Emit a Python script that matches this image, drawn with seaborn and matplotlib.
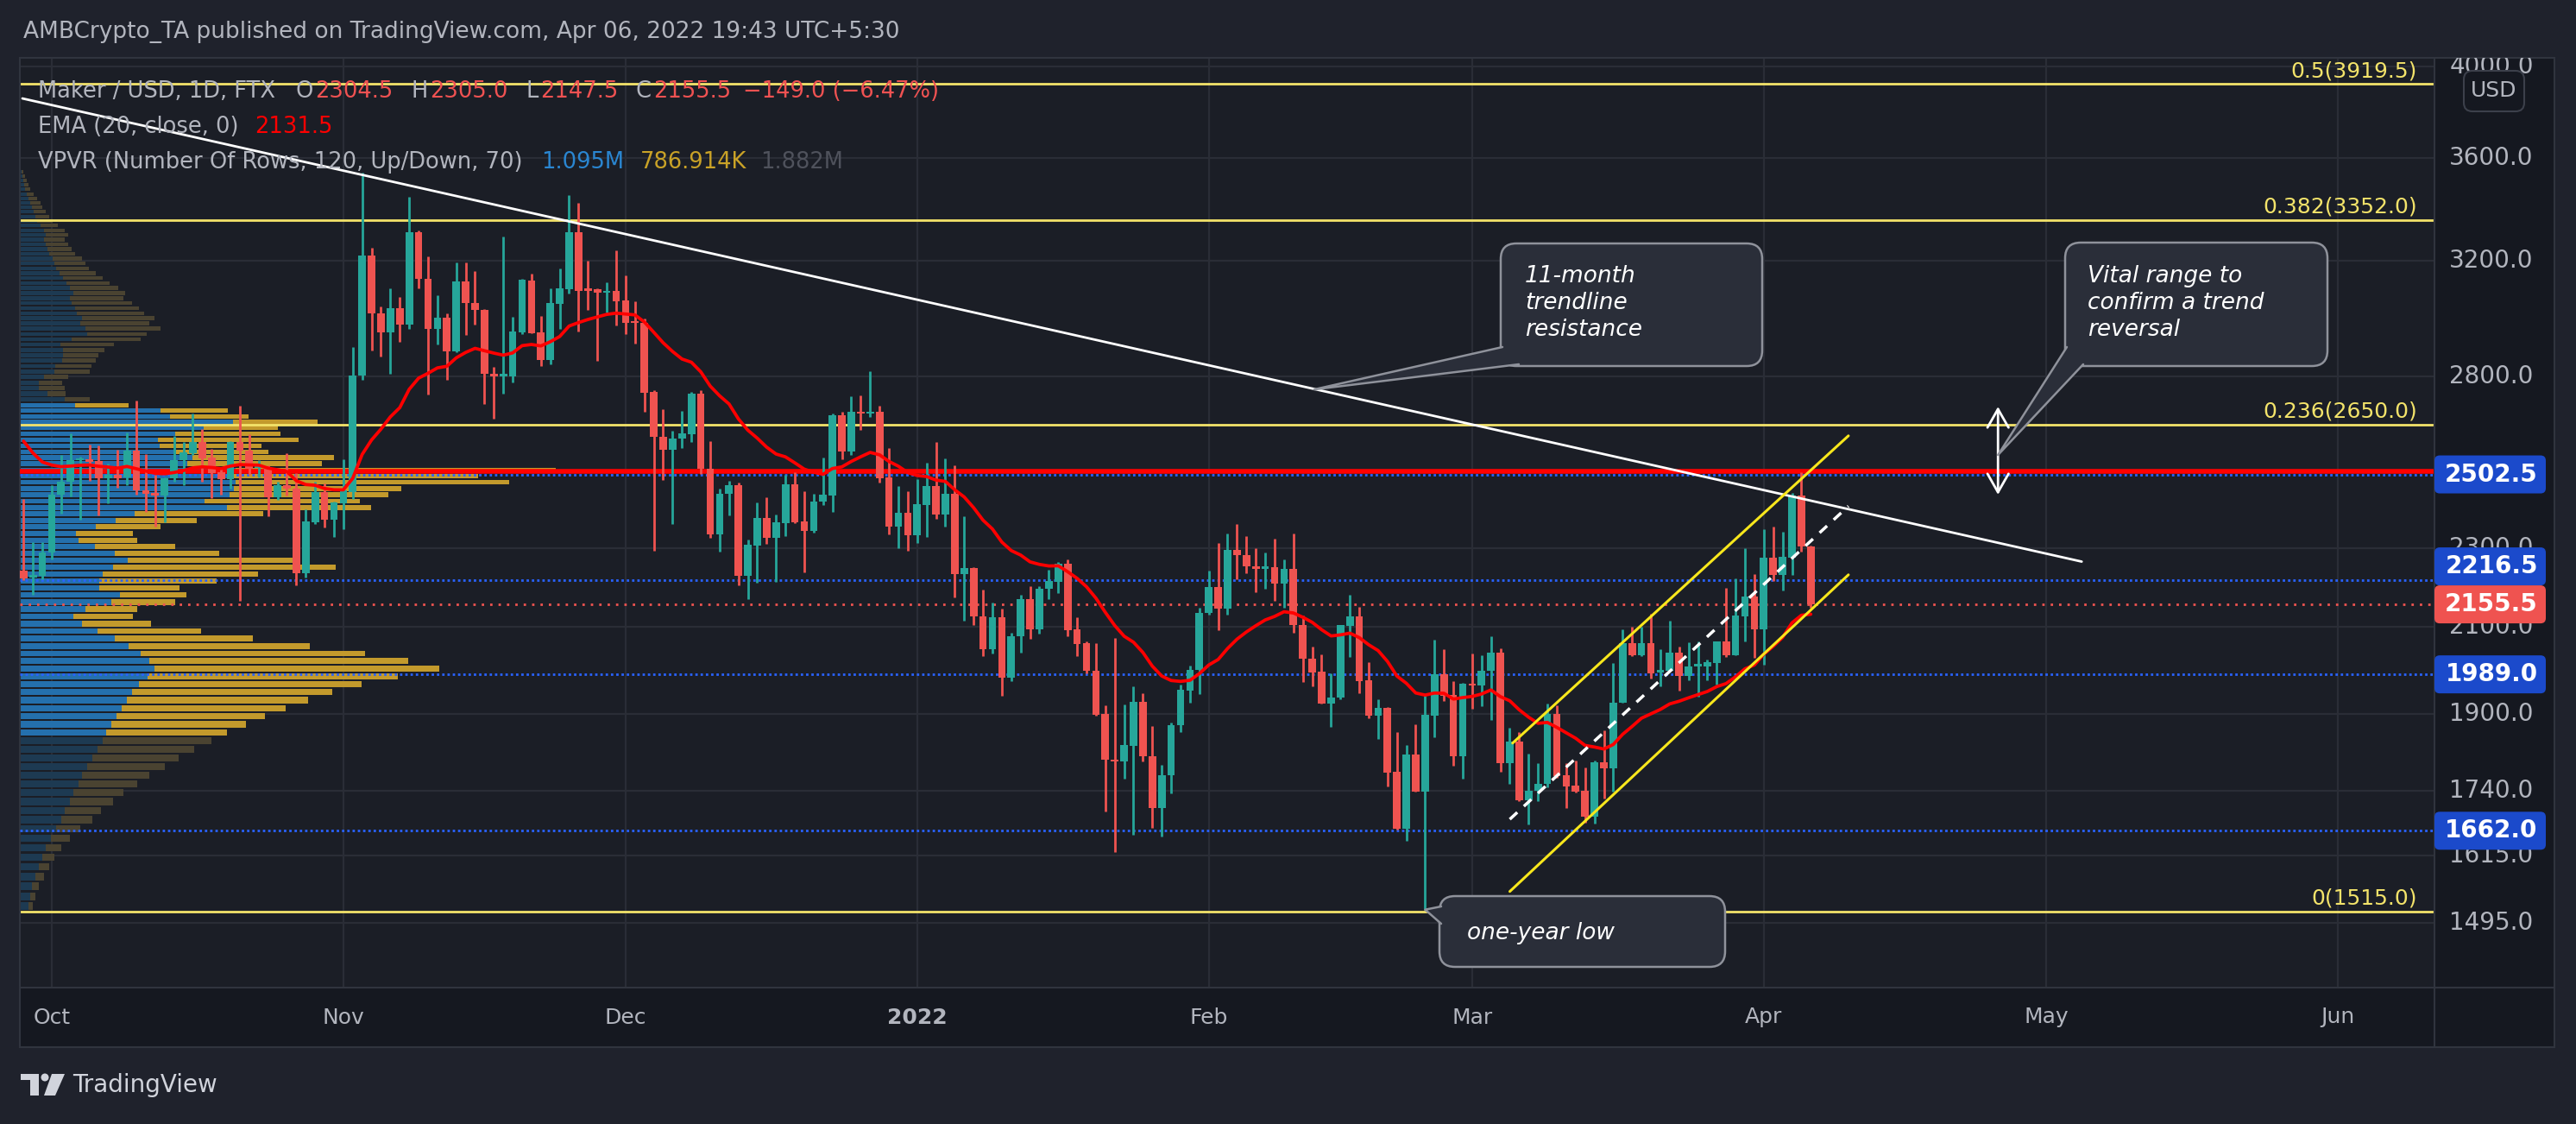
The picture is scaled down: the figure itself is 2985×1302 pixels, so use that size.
import numpy as np
import pandas as pd
import matplotlib
matplotlib.use("Agg")
import matplotlib.pyplot as plt
from matplotlib.patches import FancyBboxPatch, Polygon, Circle, Rectangle
from matplotlib.lines import Line2D
from matplotlib.transforms import IdentityTransform
import seaborn as sns

sns.set_theme(style="dark")
plt.rcParams["font.family"] = ["DejaVu Sans"]

# ------------------------------------------------------------------ data
start_date = "2021-09-28"
opens = [2240, 2223, 2228, 2287, 2444, 2481, 2543, 2547, 2541, 2491,
         2502, 2493, 2571, 2457, 2450, 2443, 2491, 2543, 2565, 2597,
         2552, 2508, 2489, 2597, 2571, 2521, 2524, 2438, 2473, 2462,
         2233, 2369, 2452, 2375, 2421, 2452, 2803, 3218, 3012, 2946,
         3028, 2973, 3305, 3134, 2958, 2995, 2883, 3123, 3048, 3022,
         2810, 2801, 2801, 2946, 3127, 2946, 2855, 3045, 3097, 3305,
         3097, 3095, 3083, 3091, 3055, 2982, 2978, 2752, 2614, 2575,
         2607, 2620, 2746, 2520, 2336, 2447, 2471, 2228, 2306, 2380,
         2327, 2367, 2474, 2371, 2345, 2425, 2442, 2679, 2570, 2690,
         2683, 2688, 2493, 2357, 2394, 2334, 2417, 2469, 2389, 2447,
         2232, 2247, 2127, 2048, 2124, 1982, 2077, 2169, 2095, 2194,
         2213, 2258, 2095, 2061, 1998, 1901, 1804, 1799, 1833, 1927,
         1811, 1706, 1771, 1876, 1953, 2000, 2134, 2199, 2144, 2294,
         2280, 2252, 2246, 2250, 2208, 2246, 2106, 2025, 1995, 1924,
         1936, 2103, 2125, 1975, 1897, 1914, 1779, 1666, 1814, 1739,
         1896, 1990, 1943, 1811, 1967, 1963, 1997, 2040, 1797, 1841,
         1722, 1740, 1754, 1900, 1771, 1750, 1740, 1689, 1798, 1785,
         1926, 2062, 2033, 2061, 1993, 1998, 2039, 1985, 2008, 2008,
         2016, 2065, 2034, 2126, 2175, 2094, 2274, 2230, 2274, 2443,
         2304.5]
highs = [2432, 2315, 2315, 2473, 2559, 2623, 2553, 2590, 2587, 2535,
         2575, 2626, 2724, 2561, 2502, 2495, 2616, 2598, 2684, 2636,
         2577, 2524, 2600, 2708, 2620, 2543, 2528, 2481, 2564, 2506,
         2405, 2482, 2477, 2425, 2546, 2898, 3539, 3248, 3035, 3099,
         3068, 3441, 3310, 3214, 3075, 3010, 3191, 3191, 3160, 3025,
         2831, 3288, 2998, 3134, 3150, 3003, 3099, 3170, 3449, 3418,
         3198, 3099, 3121, 3237, 3146, 3053, 2992, 2757, 2697, 2631,
         2692, 2752, 2756, 2600, 2462, 2485, 2478, 2323, 2423, 2438,
         2389, 2501, 2508, 2455, 2447, 2551, 2684, 2690, 2738, 2740,
         2818, 2709, 2579, 2469, 2455, 2489, 2537, 2597, 2549, 2528,
         2384, 2250, 2192, 2160, 2145, 2086, 2180, 2201, 2201, 2243,
         2262, 2269, 2124, 2065, 2061, 1920, 2074, 1922, 1962, 1946,
         1875, 1793, 1882, 1965, 2010, 2148, 2241, 2313, 2338, 2364,
         2331, 2299, 2288, 2324, 2269, 2338, 2129, 2053, 2035, 1992,
         2106, 2180, 2149, 2017, 1933, 1915, 1862, 1834, 1878, 1943,
         2070, 2047, 1973, 1969, 2037, 2034, 2079, 2050, 1871, 1862,
         1815, 1797, 1924, 1919, 1797, 1801, 1788, 1801, 1865, 2015,
         2095, 2101, 2101, 2133, 2048, 2116, 2053, 2063, 2066, 2024,
         2065, 2197, 2221, 2300, 2232, 2349, 2356, 2342, 2449, 2508,
         2305.0]
lows = [2217, 2179, 2219, 2269, 2392, 2440, 2376, 2483, 2388, 2422,
        2464, 2473, 2444, 2398, 2358, 2369, 2482, 2473, 2560, 2481,
        2436, 2446, 2461, 2165, 2502, 2493, 2385, 2430, 2442, 2203,
        2224, 2365, 2355, 2330, 2351, 2434, 2790, 2885, 2864, 2810,
        2914, 2958, 3099, 2742, 2905, 2791, 2880, 2936, 2973, 2712,
        2668, 2746, 2780, 2939, 2943, 2833, 2840, 2959, 3080, 2949,
        3023, 2852, 3015, 2970, 2939, 2908, 2688, 2292, 2487, 2365,
        2579, 2598, 2505, 2327, 2290, 2388, 2203, 2169, 2210, 2311,
        2211, 2332, 2367, 2237, 2340, 2415, 2398, 2547, 2560, 2633,
        2672, 2478, 2336, 2299, 2292, 2314, 2330, 2378, 2357, 2172,
        2115, 2106, 2032, 2037, 1940, 1974, 2040, 2072, 2084, 2169,
        2183, 2078, 2031, 1992, 1896, 1700, 1622, 1764, 1654, 1799,
        1668, 1651, 1735, 1862, 1925, 1944, 2130, 2093, 2131, 2218,
        2234, 2185, 2194, 2165, 2148, 2087, 1971, 1962, 1924, 1872,
        1933, 2029, 1947, 1892, 1847, 1749, 1664, 1643, 1739, 1518,
        1850, 1929, 1790, 1764, 1912, 1917, 1887, 1779, 1754, 1720,
        1674, 1720, 1747, 1766, 1706, 1737, 1677, 1676, 1724, 1739,
        1925, 2032, 2032, 1979, 1961, 1998, 1953, 1976, 1938, 1976,
        1965, 2029, 2034, 2065, 2028, 2012, 2215, 2190, 2230, 2291,
        2147.5]
closes = [2221, 2230, 2288, 2444, 2481, 2543, 2549, 2539, 2491, 2502,
          2492, 2571, 2457, 2448, 2443, 2492, 2543, 2567, 2597, 2550,
          2506, 2489, 2597, 2571, 2520, 2524, 2438, 2473, 2461, 2233,
          2371, 2452, 2375, 2424, 2457, 2804, 3218, 3012, 2946, 3028,
          2973, 3305, 3134, 2958, 2995, 2883, 3123, 3048, 3022, 2810,
          2801, 2805, 2949, 3129, 2943, 2855, 3047, 3099, 3305, 3091,
          3090, 3083, 3090, 3053, 2978, 2978, 2749, 2614, 2575, 2607,
          2622, 2746, 2519, 2336, 2447, 2471, 2228, 2308, 2380, 2327,
          2369, 2474, 2369, 2345, 2426, 2444, 2679, 2570, 2690, 2683,
          2688, 2492, 2357, 2394, 2334, 2418, 2469, 2389, 2447, 2232,
          2247, 2126, 2048, 2124, 1982, 2079, 2169, 2095, 2194, 2214,
          2258, 2093, 2060, 1997, 1899, 1803, 1799, 1834, 1927, 1810,
          1706, 1771, 1877, 1954, 2000, 2135, 2199, 2144, 2294, 2280,
          2252, 2246, 2250, 2208, 2246, 2105, 2025, 1994, 1924, 1937,
          2106, 2125, 1973, 1897, 1914, 1777, 1666, 1814, 1739, 1898,
          1990, 1941, 1811, 1968, 1963, 1997, 2040, 1797, 1841, 1722,
          1740, 1754, 1900, 1770, 1749, 1739, 1689, 1798, 1785, 1926,
          2062, 2033, 2061, 1992, 2000, 2039, 1985, 2008, 2010, 2018,
          2065, 2034, 2129, 2175, 2094, 2274, 2230, 2276, 2443, 2304,
          2155.5]
ema_seed = 2640.0

month_ticks = ["2021-10-01", "2021-11-01", "2021-12-01", "2022-01-01", "2022-02-01",
               "2022-03-01", "2022-04-01", "2022-05-01", "2022-06-01"]
month_labels = ["Oct", "Nov", "Dec", "2022", "Feb", "Mar", "Apr", "May", "Jun"]
price_ticks = [4000, 3600, 3200, 2800, 2300, 2100, 1900, 1740, 1615, 1495]

fib_ratios = ["0.5", "0.382", "0.236", "0"]
fib_prices = [3919.5, 3352.0, 2650.0, 1515.0]
red_level = 2512.0
blue_levels = [2502.5, 2216.5, 1989.0, 1662.0]
last_price = 2155.5

trend_days = [-0.12, 218.8]
trend_prices = [3854, 2264]
chan_up_days = [158.3, 194.0]
chan_up_prices = [1838, 2616]
chan_lo_days = [158.0, 194.0]
chan_lo_prices = [1550, 2230]
chan_mid_days = [158.0, 194.0]
chan_mid_prices = [1684, 2413]
arrow_day = 209.9
arrow_prices = [2705, 2445]
callout_trend_tip = (137.2, 2759)
callout_range_tip = (209.9, 2559)
callout_low_tip = (149, 1518)

vp_low, vp_high = 1515.0, 3640.0
vp_up = [10, 12, 14, 18, 22, 26, 30, 36, 42, 48, 52, 58, 62, 68, 72, 78, 84, 90, 96, 100,
         106, 112, 118, 124, 130, 138, 148, 156, 150, 140, 126, 110, 90, 72,
         62, 76, 106, 116, 92, 92, 96, 108, 125, 110, 87, 68, 65, 88, 111, 133, 240, 214, 243, 248,
         250, 245, 250, 194, 200, 181, 162, 160, 180, 213, 247, 174, 163, 64, 52, 32, 22, 22, 28, 40,
         41, 49, 50, 50, 47, 60, 78, 76,
         70, 72, 66, 64, 60, 58, 62, 58, 54, 50, 46, 42, 40, 38, 34, 32, 30, 28, 30, 28,
         24, 20, 18, 16, 14, 12, 10, 8, 6, 5, 4, 3, 2, 0, 0, 0, 0, 0]
vp_down = [5, 6, 8, 10, 12, 14, 18, 22, 28, 36, 42, 50, 58, 68, 78, 90, 100, 112, 126, 140,
           156, 172, 190, 210, 232, 258, 290, 330, 300, 260, 210, 160, 120, 80,
           69, 60, 74, 77, 93, 136, 180, 258, 200, 121, 93, 68, 66, 75, 94, 149, 167, 180, 184, 194,
           317, 286, 371, 156, 164, 107, 118, 163, 122, 86, 98, 91, 78, 62, 29, 21, 30, 27, 28, 41,
           42, 39, 41, 48, 62, 80, 69, 87,
           80, 84, 78, 74, 70, 62, 60, 56, 50, 46, 42, 38, 36, 34, 30, 28, 26, 24, 26, 24,
           20, 18, 16, 14, 12, 12, 10, 8, 6, 5, 4, 3, 2, 0, 0, 0, 0, 0]
va_low, va_high = 1850.0, 2715.0

# ------------------------------------------------------------------ style / layout
W, H, DPI = 2985, 1302, 100
OUTER, PANE, AXIS = "#1f222c", "#1b1e26", "#151820"
GRID, BORDER = "#2a2d36", "#30343e"
TXT = "#b2b5be"
UP, DOWN = "#26a69a", "#ef5350"
CALL_FC, CALL_EC = "#2a2e39", "#8f929b"
ID = IdentityTransform()

PL, PR, PT, PB = 23, 2821, 67, 1144      # price pane (pixels)
AR, XB = 2960, 1213                      # right edge of price scale, bottom of time scale
X0, X1 = -0.39, 256.3                    # visible days since start_date
Y0, Y1 = 1388, 4038                      # visible price range (log)

fig = plt.figure(figsize=(W / DPI, H / DPI), dpi=DPI, facecolor=OUTER)

ax = fig.add_axes([PL / W, 1 - PB / H, (PR - PL) / W, (PB - PT) / H])
ax.set_facecolor(PANE)
ax.set_yscale("log")
ax.set_xlim(X0, X1)
ax.set_ylim(Y0, Y1)
ax.set_xticks([])
ax.set_yticks([])
ax.set_yticks([], minor=True)
for s in ax.spines.values():
    s.set_color(BORDER)
    s.set_linewidth(1.5)

month_days = [(pd.Timestamp(m) - pd.Timestamp(start_date)).days for m in month_ticks]
for p in price_ticks:
    ax.axhline(p, color=GRID, lw=1.6, zorder=0.5)
for d in month_days:
    ax.axvline(d, color=GRID, lw=1.6, zorder=0.5)

# ---- volume profile (VPVR)
nrows = len(vp_up)
step = (vp_high - vp_low) / nrows
centers = vp_low + (np.arange(nrows) + 0.5) * step
kx = (X1 - X0) / (PR - PL)
in_va = (centers >= va_low) & (centers <= va_high)
up_cols = np.where(in_va, "#2470ad", "#1d3a52")
dn_cols = np.where(in_va, "#c39a2c", "#4a4331")
up_w = np.array(vp_up, float) * kx
dn_w = np.array(vp_down, float) * kx
ax.barh(centers, up_w, left=X0, height=step * 0.78, color=up_cols, linewidth=0, zorder=1)
ax.barh(centers, dn_w, left=X0 + up_w, height=step * 0.78, color=dn_cols, linewidth=0, zorder=1)

# ---- horizontal levels
for r, p in zip(fib_ratios, fib_prices):
    ax.axhline(p, color="#f3e36a", lw=2, zorder=2.5)
    ax.annotate(f"{r}({p:.1f})", xy=(1, p), xycoords=("axes fraction", "data"),
                xytext=(-20, 3), textcoords="offset pixels", ha="right", va="bottom",
                color="#f3e36a", fontsize=18, zorder=9)
ax.axhline(red_level, color="#ff0000", lw=4, zorder=2.6)
for lv in blue_levels:
    ax.axhline(lv, color="#2962ff", lw=2, ls=(0, (1, 1.2)), zorder=2.7)
ax.axhline(last_price, color=DOWN, lw=2, ls=(0, (1, 2.5)), zorder=2.7)

# ---- candles
o, hi, lo, c = (np.array(v, float) for v in (opens, highs, lows, closes))
xs = np.arange(len(c))
cols = np.where(c >= o, UP, DOWN)
ax.vlines(xs, lo, hi, colors=cols, lw=2.0, zorder=3)
b_lo = np.minimum(o, c)
b_h = np.maximum(np.abs(c - o), b_lo * 0.0025)
ax.bar(xs, b_h, bottom=b_lo, width=0.8, color=cols, linewidth=0, zorder=4)

# ---- EMA 20
ema = pd.Series([ema_seed] + list(closes)).ewm(span=20, adjust=False).mean().values[1:]
sns.lineplot(x=xs, y=ema, ax=ax, color="#ff0000", linewidth=2.7, zorder=5, legend=False)
ax.set_xlabel("")
ax.set_ylabel("")

# ---- drawings
ax.plot(trend_days, trend_prices, color="white", lw=2, zorder=6)
ax.plot(chan_up_days, chan_up_prices, color="#f8e71c", lw=2.2, zorder=6)
ax.plot(chan_lo_days, chan_lo_prices, color="#f8e71c", lw=2.2, zorder=6)
ax.plot(chan_mid_days, chan_mid_prices, color="white", lw=2.5, ls=(0, (3.4, 3)), zorder=6)
ax.annotate("", xy=(arrow_day, arrow_prices[0]), xytext=(arrow_day, arrow_prices[1]),
            arrowprops=dict(arrowstyle="<->,head_length=0.7,head_width=0.4", color="white",
                            lw=2, shrinkA=0, shrinkB=0, mutation_scale=22), zorder=7)
ax.set_xlim(X0, X1)
ax.set_ylim(Y0, Y1)

# ---- price scale
ax_p = fig.add_axes([PR / W, 1 - PB / H, (AR - PR) / W, (PB - PT) / H])
ax_p.set_facecolor(AXIS)
ax_p.set_yscale("log")
ax_p.set_ylim(Y0, Y1)
ax_p.set_xlim(0, AR - PR)
ax_p.set_xticks([])
ax_p.set_yticks([])
ax_p.set_yticks([], minor=True)
for s in ax_p.spines.values():
    s.set_color(BORDER)
    s.set_linewidth(1.5)
for p in price_ticks:
    ax_p.text(66, p, f"{p:.1f}", ha="center", va="center", fontsize=20, color=TXT, clip_on=True)

# time scale
ax_x = fig.add_axes([PL / W, 1 - XB / H, (AR - PL) / W, (XB - PB) / H])
ax_x.set_facecolor(AXIS)
ax_x.set_xlim(X0, X0 + (AR - PL) * kx)
ax_x.set_ylim(0, 1)
ax_x.set_xticks([])
ax_x.set_yticks([])
for s in ax_x.spines.values():
    s.set_color(BORDER)
    s.set_linewidth(1.5)
ax_x.axvline(X1, color=BORDER, lw=1.5)
for d, lab in zip(month_days, month_labels):
    ax_x.text(d, 0.5, lab, ha="center", va="center", fontsize=18, color=TXT,
              fontweight="bold" if lab == "2022" else "normal")

# price labels on scale
BH = 44
ylast = ax_p.transData.transform((0, last_price))[1]
boxes = []
for lv in blue_levels:
    yd = ax_p.transData.transform((0, lv))[1]
    d = yd - ylast
    if abs(d) < BH:
        yd = ylast + np.sign(d) * BH
    boxes.append((lv, yd, "#1b4acb"))
boxes.append((last_price, ylast, DOWN))
for lv, yd, colr in boxes:
    fig.add_artist(FancyBboxPatch((PR, yd - BH / 2), 129, BH, boxstyle="round,pad=0,rounding_size=6",
                                  transform=ID, fc=colr, ec="none", zorder=20))
    fig.text(PR + 66, yd, f"{lv:.1f}", transform=ID, ha="center", va="center", fontsize=20,
             color="white", fontweight="bold", zorder=25)

fig.add_artist(FancyBboxPatch((2855, H - 129), 70, 47, boxstyle="round,pad=0,rounding_size=10",
                              transform=ID, fc=AXIS, ec="#3c404b", lw=1.5, zorder=20))
fig.text(2890, H - 105, "USD", transform=ID, ha="center", va="center", fontsize=18, color=TXT, zorder=25)


# ---- callouts
def callout(x0, y0, x1, y1, tip, base_a, base_b, lines, tx, tys):
    fig.add_artist(FancyBboxPatch((x0, H - y1), x1 - x0, y1 - y0, boxstyle="round,pad=0,rounding_size=18",
                                  transform=ID, fc=CALL_FC, ec=CALL_EC, lw=1.8, zorder=20))
    td = ax.transData.transform(tip)
    pts = [(base_a[0], H - base_a[1]), (td[0], td[1]), (base_b[0], H - base_b[1])]
    fig.add_artist(Polygon(pts, closed=True, transform=ID, fc=CALL_FC, ec="none", zorder=21))
    fig.add_artist(Line2D([p[0] for p in pts], [p[1] for p in pts], transform=ID,
                          color=CALL_EC, lw=1.8, zorder=22))
    for s, ty in zip(lines, tys):
        fig.text(tx, H - ty, s, transform=ID, ha="left", va="center", fontsize=19,
                 fontstyle="italic", color="white", zorder=25)


callout(1739, 282, 2042, 424, callout_trend_tip, (1741, 402), (1760, 422),
        ["11-month", "trendline", "resistance"], 1767, [320, 351, 382])
callout(2393, 281, 2697, 424, callout_range_tip, (2395, 402), (2414, 422),
        ["Vital range to", "confirm a trend", "reversal"], 2419, [320, 351, 382])
callout(1668, 1038, 1999, 1120, callout_low_tip, (1670, 1050), (1670, 1070),
        ["one-year low"], 1700, [1081])

# ---- header / legend
renderer = fig.canvas.get_renderer()


def chain(x, y, segs, size):
    for s, colr, gap in segs:
        t = fig.text(x, H - y, s, transform=ID, color=colr, fontsize=size, ha="left", va="center", zorder=30)
        bb = t.get_window_extent(renderer=renderer)
        x = bb.x1 + gap


fig.text(27, H - 37, "AMBCrypto_TA published on TradingView.com, Apr 06, 2022 19:43 UTC+5:30",
         transform=ID, color=TXT, fontsize=19, ha="left", va="center")
VAL = "#f05252"
LS = 18.5
chain(44, 106, [("Maker / USD, 1D, FTX", TXT, 24), ("O", TXT, 2), ("2304.5", VAL, 21),
                ("H", TXT, 2), ("2305.0", VAL, 21), ("L", TXT, 2), ("2147.5", VAL, 21),
                ("C", TXT, 2), ("2155.5", VAL, 14), ("\u2212149.0 (\u22126.47%)", VAL, 0)], LS)
chain(44, 147, [("EMA (20, close, 0)", TXT, 19), ("2131.5", "#ff0000", 0)], LS)
chain(44, 188, [("VPVR (Number Of Rows, 120, Up/Down, 70)", TXT, 22), ("1.095M", "#2a86d1", 18),
                ("786.914K", "#c9a227", 16), ("1.882M", "#4f525c", 0)], LS)

# ---- TradingView logo
LOGO = "#d1d4dc"
fig.add_artist(Rectangle((24, H - 1251), 21, 7, transform=ID, fc=LOGO, ec="none"))
fig.add_artist(Rectangle((35, H - 1269), 10, 25, transform=ID, fc=LOGO, ec="none"))
fig.add_artist(Circle((52, H - 1248), 4.5, transform=ID, fc=LOGO, ec="none"))
fig.add_artist(Polygon([(60, H - 1244), (75, H - 1244), (64, H - 1269), (51, H - 1269)],
                       closed=True, transform=ID, fc=LOGO, ec="none"))
fig.text(84, H - 1257, "TradingView", transform=ID, color=LOGO, fontsize=20, ha="left", va="center")

fig.savefig("out.png", dpi=DPI, facecolor=OUTER)
